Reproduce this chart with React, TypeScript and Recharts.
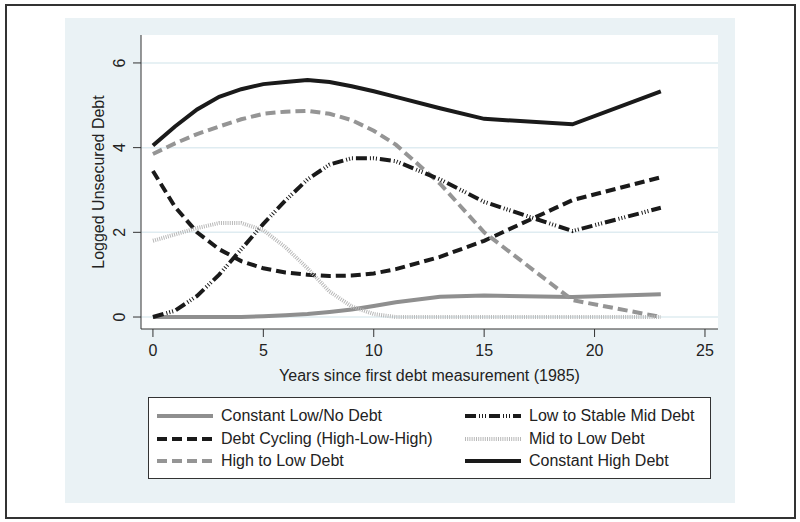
import { CartesianGrid, Line, LineChart, XAxis, YAxis } from 'recharts';

const years = [0, 1, 2, 3, 4, 5, 6, 7, 8, 9, 10, 11, 13, 15, 19, 23];

const constantLow = [0, 0, 0, 0, 0, 0.02, 0.04, 0.07, 0.12, 0.18, 0.26, 0.35, 0.48, 0.51, 0.47, 0.54];
const debtCycling = [3.45, 2.6, 2.0, 1.6, 1.32, 1.15, 1.05, 1.0, 0.97, 0.98, 1.03, 1.13, 1.42, 1.8, 2.76, 3.3];
const highToLow = [3.85, 4.1, 4.32, 4.5, 4.67, 4.8, 4.85, 4.87, 4.8, 4.65, 4.4, 4.07, 3.15, 2.0, 0.4, 0.0];
const lowToMid = [0.0, 0.15, 0.5, 1.0, 1.6, 2.2, 2.75, 3.25, 3.6, 3.75, 3.75, 3.68, 3.25, 2.72, 2.03, 2.58];
const midToLow = [1.8, 1.95, 2.1, 2.22, 2.22, 2.05, 1.65, 1.15, 0.6, 0.25, 0.07, 0.0, 0.0, 0.0, 0.0, 0.0];
const constantHigh = [4.05, 4.5, 4.9, 5.2, 5.38, 5.5, 5.55, 5.6, 5.55, 5.45, 5.33, 5.2, 4.93, 4.68, 4.55, 5.33];

const xTicks = [0, 5, 10, 15, 20, 25];
const yTicks = [0, 2, 4, 6];

const series = [
  { key: 'constantLow', name: 'Constant Low/No Debt', values: constantLow, color: '#8f8f8f', dash: undefined },
  { key: 'debtCycling', name: 'Debt Cycling (High-Low-High)', values: debtCycling, color: '#1a1a1a', dash: '10 5' },
  { key: 'highToLow', name: 'High to Low Debt', values: highToLow, color: '#959595', dash: '10 5' },
  { key: 'lowToMid', name: 'Low to Stable Mid Debt', values: lowToMid, color: '#1a1a1a', dash: '11 3 1 2 1 2 1 3' },
  { key: 'midToLow', name: 'Mid to Low Debt', values: midToLow, color: '#b8b8b8', dash: '1 1.2' },
  { key: 'constantHigh', name: 'Constant High Debt', values: constantHigh, color: '#1a1a1a', dash: undefined },
];

const data = years.map((year, i) => {
  const row: Record<string, number> = { year };
  series.forEach((s) => {
    row[s.key] = s.values[i];
  });
  return row;
});

const font = '"Liberation Sans", Arial, sans-serif';

const YTick = (props: any) => {
  const { x, y, payload } = props;
  return (
    <text
      transform={`translate(${x - 12},${y}) rotate(-90)`}
      textAnchor='middle'
      dominantBaseline='central'
      fontSize={16}
      fill='#222'
      fontFamily={font}
    >
      {payload.value}
    </text>
  );
};

const Swatch = ({ color, dash }: { color: string; dash?: string }) => (
  <svg width={56} height={8} style={{ display: 'block' }}>
    <line x1={0} y1={4} x2={56} y2={4} stroke={color} strokeWidth={4} strokeDasharray={dash} />
  </svg>
);

const App = () => {
  return (
    <div style={{ position: 'absolute', left: 0, top: 0, width: 800, height: 522, background: '#fff', fontFamily: font }}>
      <div style={{ position: 'absolute', left: 5, top: 4, width: 787, height: 511, border: '2px solid #333' }} />
      <div style={{ position: 'absolute', left: 65, top: 18, width: 670, height: 485, background: '#eaf2f5' }} />
      <div style={{ position: 'absolute', left: 0, top: 0 }}>
        <LineChart
          width={800}
          height={522}
          data={data}
          margin={{ top: 35, right: 82, left: 55, bottom: 101 }}
        >
          <CartesianGrid vertical={false} stroke='#dfecf1' strokeWidth={1.5} fill='#fff' horizontalValues={yTicks} />
          <XAxis
            dataKey='year'
            type='number'
            domain={[-0.54, 25.59]}
            ticks={xTicks}
            allowDataOverflow
            height={92}
            tickSize={8}
            tickMargin={8}
            stroke='#333'
            tick={{ fill: '#222', fontSize: 16, fontFamily: font }}
            label={{ value: 'Years since first debt measurement (1985)', position: 'center', fill: '#222', fontSize: 16, fontFamily: font }}
          />
          <YAxis
            type='number'
            domain={[-0.283, 6.66]}
            ticks={yTicks}
            allowDataOverflow
            width={86}
            tickSize={8}
            tickMargin={2}
            stroke='#333'
            tick={<YTick />}
            label={{ value: 'Logged Unsecured Debt', angle: -90, position: 'center', fill: '#222', fontSize: 16, fontFamily: font }}
          />
          {series.map((s) => (
            <Line
              key={s.key}
              dataKey={s.key}
              name={s.name}
              type='linear'
              stroke={s.color}
              strokeWidth={4}
              strokeDasharray={s.dash}
              dot={false}
              activeDot={false}
              isAnimationActive={false}
            />
          ))}
        </LineChart>
      </div>
      <div
        style={{
          position: 'absolute',
          left: 148,
          top: 397,
          width: 561,
          height: 80,
          border: '1px solid #333',
          background: '#fff',
        }}
      >
        {series.map((s, i) => {
          const col = i < 3 ? 0 : 1;
          const row = i % 3;
          const top = 18 + row * 22.5;
          return (
            <div key={s.key}>
              <div style={{ position: 'absolute', left: col === 0 ? 8 : 316, top: top - 4 }}>
                <Swatch color={s.color} dash={s.dash} />
              </div>
              <div
                style={{
                  position: 'absolute',
                  left: col === 0 ? 72 : 380,
                  top: top - 10,
                  fontSize: 16,
                  lineHeight: '20px',
                  color: '#222',
                  whiteSpace: 'nowrap',
                }}
              >
                {s.name}
              </div>
            </div>
          );
        })}
      </div>
    </div>
  );
};

export default App;
